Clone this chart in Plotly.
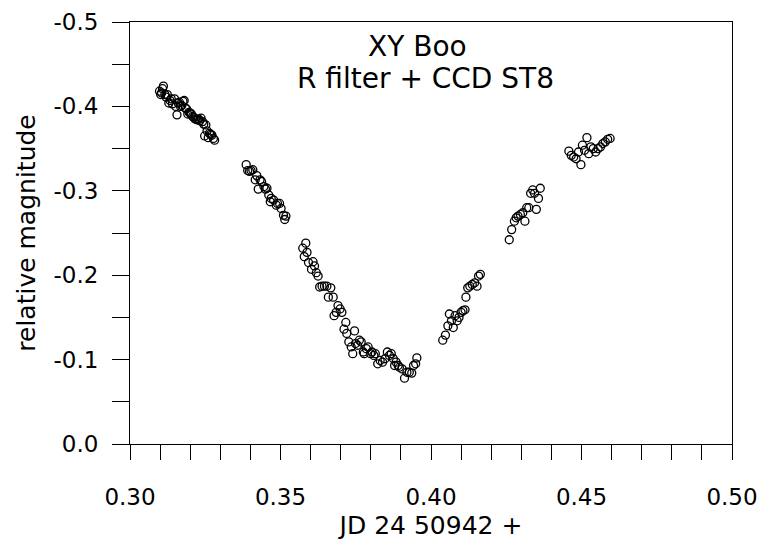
import plotly.graph_objects as go

jd = [
    0.3098, 0.3102, 0.3105, 0.3108, 0.3111, 0.3116, 0.3120, 0.3124, 0.3129, 0.3133,
    0.3137, 0.3141, 0.3148, 0.3152, 0.3156, 0.3160, 0.3164, 0.3168, 0.3172, 0.3176,
    0.3180, 0.3184, 0.3188, 0.3192, 0.3196, 0.3200, 0.3204, 0.3208, 0.3212, 0.3216,
    0.3220, 0.3224, 0.3228, 0.3232, 0.3236, 0.3241, 0.3245, 0.3248, 0.3252, 0.3256,
    0.3260, 0.3264, 0.3268, 0.3272, 0.3277, 0.3281,
    0.3386, 0.3391, 0.3397, 0.3402, 0.3408, 0.3416, 0.3421, 0.3426, 0.3432, 0.3437,
    0.3445, 0.3450, 0.3455, 0.3461, 0.3466, 0.3469, 0.3477, 0.3486, 0.3490, 0.3497,
    0.3502, 0.3510, 0.3514, 0.3518,
    0.3574, 0.3579, 0.3584, 0.3588, 0.3593, 0.3603, 0.3608, 0.3613, 0.3619, 0.3625,
    0.3630, 0.3638, 0.3646, 0.3654, 0.3659, 0.3667, 0.3675, 0.3678, 0.3685, 0.3691,
    0.3698, 0.3704, 0.3711, 0.3717, 0.3720, 0.3727, 0.3735, 0.3740, 0.3746, 0.3749,
    0.3756, 0.3762, 0.3768, 0.3775, 0.3778, 0.3785, 0.3791, 0.3799, 0.3804, 0.3810,
    0.3815, 0.3823, 0.3831, 0.3839, 0.3847, 0.3855, 0.3862, 0.3868, 0.3875, 0.3879,
    0.3884, 0.3891, 0.3895, 0.3904, 0.3912, 0.3920, 0.3928, 0.3936, 0.3942, 0.3949,
    0.3953,
    0.4039, 0.4048, 0.4056, 0.4061, 0.4068, 0.4074, 0.4080, 0.4087, 0.4093, 0.4100,
    0.4106, 0.4113, 0.4116, 0.4122, 0.4129, 0.4137, 0.4145, 0.4153, 0.4158, 0.4164,
    0.4260, 0.4268, 0.4277, 0.4283, 0.4289, 0.4297, 0.4305, 0.4312, 0.4318, 0.4325,
    0.4331, 0.4338, 0.4344, 0.4350, 0.4357, 0.4363,
    0.4458, 0.4466, 0.4474, 0.4482, 0.4490, 0.4498, 0.4503, 0.4510, 0.4518, 0.4524,
    0.4531, 0.4539, 0.4547, 0.4555, 0.4563, 0.4571, 0.4579, 0.4587, 0.4595,
]
mag = [
    -0.418, -0.414, -0.416, -0.421, -0.424, -0.414, -0.411, -0.414, -0.404, -0.407,
    -0.409, -0.403, -0.409, -0.400, -0.390, -0.404, -0.405, -0.400, -0.401, -0.406,
    -0.407, -0.398, -0.397, -0.391, -0.393, -0.392, -0.391, -0.388, -0.387, -0.385,
    -0.385, -0.384, -0.385, -0.383, -0.386, -0.382, -0.379, -0.365, -0.378, -0.371,
    -0.363, -0.368, -0.367, -0.366, -0.362, -0.360,
    -0.331, -0.324, -0.323, -0.324, -0.325, -0.313, -0.318, -0.302, -0.313, -0.311,
    -0.305, -0.302, -0.303, -0.295, -0.287, -0.291, -0.289, -0.283, -0.285, -0.285,
    -0.279, -0.271, -0.266, -0.270,
    -0.232, -0.222, -0.238, -0.227, -0.215, -0.207, -0.216, -0.211, -0.203, -0.199,
    -0.186, -0.187, -0.187, -0.187, -0.174, -0.185, -0.174, -0.152, -0.156, -0.164,
    -0.160, -0.156, -0.136, -0.144, -0.131, -0.121, -0.115, -0.107, -0.134, -0.119,
    -0.117, -0.123, -0.121, -0.109, -0.107, -0.113, -0.115, -0.107, -0.109, -0.105,
    -0.107, -0.095, -0.099, -0.097, -0.101, -0.109, -0.105, -0.107, -0.101, -0.093,
    -0.097, -0.093, -0.091, -0.089, -0.078, -0.085, -0.085, -0.084, -0.093, -0.095,
    -0.102,
    -0.123, -0.129, -0.140, -0.154, -0.146, -0.138, -0.152, -0.146, -0.150, -0.156,
    -0.158, -0.159, -0.174, -0.185, -0.187, -0.189, -0.191, -0.187, -0.199, -0.201,
    -0.242, -0.254, -0.264, -0.268, -0.270, -0.272, -0.274, -0.264, -0.280, -0.280,
    -0.297, -0.301, -0.297, -0.278, -0.291, -0.303,
    -0.347, -0.342, -0.340, -0.338, -0.346, -0.331, -0.354, -0.348, -0.363, -0.344,
    -0.352, -0.350, -0.346, -0.350, -0.352, -0.356, -0.358, -0.361, -0.362,
]

x_tickvals = [0.30, 0.35, 0.40, 0.45, 0.50]
x_ticktext = ["0.30", "0.35", "0.40", "0.45", "0.50"]
y_tickvals = [-0.5, -0.4, -0.3, -0.2, -0.1, 0.0]
y_ticktext = ["-0.5", "-0.4", "-0.3", "-0.2", "-0.1", "0.0"]

title_lines = ["XY Boo", "R filter + CCD ST8"]
x_title = "JD 24 50942 +"
y_title = "relative magnitude"

FONT = "DejaVu Sans, Liberation Sans, Arial, sans-serif"

fig = go.Figure()
fig.add_trace(go.Scatter(
    x=jd, y=mag, mode="markers",
    marker=dict(symbol="circle-open", size=8, color="black", line=dict(width=1.3, color="black")),
    showlegend=False, hoverinfo="x+y",
))

fig.update_layout(
    width=760, height=540,
    margin=dict(l=130, r=28, t=22, b=96, autoexpand=False),
    paper_bgcolor="white", plot_bgcolor="white",
    font=dict(family=FONT, size=23, color="black"),
    annotations=[
        dict(text=title_lines[0], xref="paper", yref="paper", x=0.478, y=0.942,
             showarrow=False, font=dict(size=28, family=FONT), xanchor="center", yanchor="middle"),
        dict(text=title_lines[1], xref="paper", yref="paper", x=0.491, y=0.866,
             showarrow=False, font=dict(size=28, family=FONT), xanchor="center", yanchor="middle"),
    ],
)

fig.update_xaxes(
    range=[0.30, 0.50], tickvals=x_tickvals, ticktext=x_ticktext,
    ticks="outside", ticklen=15, tickwidth=1, tickcolor="black",
    minor=dict(dtick=0.01, tick0=0.30, ticks="outside", ticklen=15, tickwidth=1, tickcolor="black"),
    showline=True, linecolor="black", linewidth=1, mirror=True,
    showgrid=False, zeroline=False,
    ticklabelstandoff=17, ticklabeloverflow="allow",
    title=dict(text=x_title, font=dict(size=25, family=FONT), standoff=8),
)
fig.update_yaxes(
    range=[0, -0.5], tickvals=y_tickvals, ticktext=y_ticktext,
    ticks="outside", ticklen=17, tickwidth=1, tickcolor="black",
    minor=dict(dtick=0.05, tick0=0, ticks="outside", ticklen=17, tickwidth=1, tickcolor="black"),
    showline=True, linecolor="black", linewidth=1, mirror=True,
    showgrid=False, zeroline=False,
    ticklabelstandoff=9, ticklabeloverflow="allow",
    title=dict(text=y_title, font=dict(size=25, family=FONT), standoff=10),
)

fig.write_html(
    "out.html",
    config={"displayModeBar": False},
    post_script="document.body.style.margin='0';document.body.style.overflow='hidden';",
)
